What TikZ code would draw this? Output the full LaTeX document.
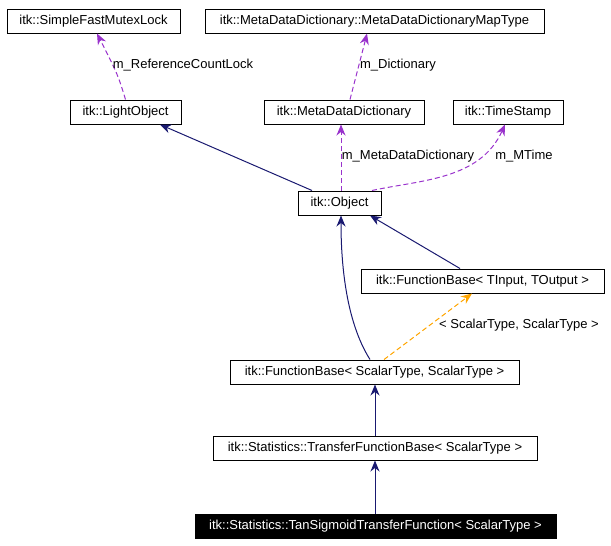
\documentclass[tikz,border=0pt]{standalone}
\usepackage{fontspec}
\setmainfont{Liberation Sans}
\usetikzlibrary{arrows.meta}
\definecolor{navy}{RGB}{25,25,112}
\definecolor{purp}{RGB}{153,50,204}
\definecolor{orng}{RGB}{255,165,0}
\begin{document}
\begin{tikzpicture}[x=1pt,y=-1pt,line width=1pt,
  box/.style={draw=black,fill=white,minimum height=24pt,inner sep=0pt,font=\fontsize{13}{15}\selectfont},
  tip/.style={-{Stealth[length=11pt,width=9pt]}},
  inh/.style={draw=navy,tip},
  use/.style={draw=purp,dash pattern=on 5pt off 3pt,tip},
  tmpl/.style={draw=orng,dash pattern=on 5pt off 3pt,tip},
  lbl/.style={font=\fontsize{13}{15}\selectfont,inner sep=1pt}]
\useasboundingbox (0,0) rectangle (611,546);
\node[box,minimum width=173pt] (mutex) at (93.5,21) {itk::SimpleFastMutexLock};
\node[box,minimum width=339pt] (map) at (374.5,21) {itk::MetaDataDictionary::MetaDataDictionaryMapType};
\node[box,minimum width=111pt] (light) at (125.5,112) {itk::LightObject};
\node[box,minimum width=160pt] (mdd) at (344,112) {itk::MetaDataDictionary};
\node[box,minimum width=110pt] (ts) at (508,112) {itk::TimeStamp};
\node[box,minimum width=83pt] (obj) at (339.5,203) {itk::Object};
\node[box,minimum width=243pt] (fbt) at (482.5,281) {itk::FunctionBase< TInput, TOutput >};
\node[box,minimum width=289pt] (fbs) at (374.5,372) {itk::FunctionBase< ScalarType, ScalarType >};
\node[box,minimum width=324pt] (tfb) at (375,448) {itk::Statistics::TransferFunctionBase< ScalarType >};
\node[box,minimum width=361pt,fill=black,text=white] (tan) at (375.5,526) {itk::Statistics::TanSigmoidTransferFunction< ScalarType >};

\draw[use] (light.north) .. controls (118,75) .. (mutex.south -| 97,0);
\node[lbl] (l1) at (183,65) {m\_ReferenceCountLock};
\draw[use] (mdd.north -| 350,0) .. controls (358,70) .. (map.south -| 367,0);
\node[lbl] (l2) at (398,65) {m\_Dictionary};
\draw[inh] (obj.north -| 312,0) -- (light.south -| 160,0);
\draw[use] (obj.north -| 341,0) -- (mdd.south -| 341,0);
\node[lbl] (l3) at (408,156) {m\_MetaDataDictionary};
\draw[use] (obj.north -| 372,0) .. controls (420,180) and (480,180) .. (ts.south -| 505,0);
\node[lbl] (l4) at (524,156) {m\_MTime};
\draw[inh] (fbt.north -| 460,0) -- (obj.south -| 370,0);
\draw[inh] (fbs.north -| 370,0) .. controls (345,320) and (341,260) .. (obj.south -| 341,0);
\draw[tmpl] (fbs.north -| 384,0) -- (fbt.south -| 472,0);
\node[lbl] (l5) at (519,325) {< ScalarType, ScalarType >};
\draw[inh] (tfb.north -| 375,0) -- (fbs.south -| 375,0);
\draw[inh] (tan.north -| 375,0) -- (tfb.south -| 375,0);
\end{tikzpicture}
\end{document}
